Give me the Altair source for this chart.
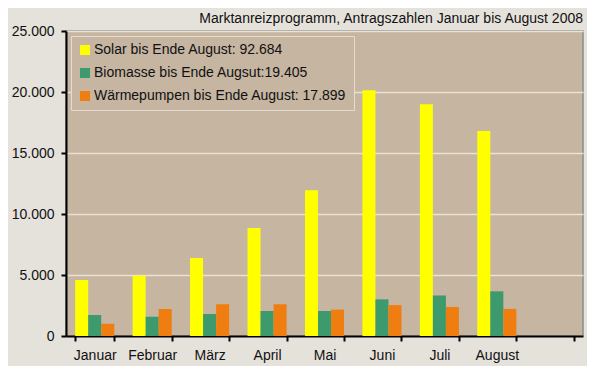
import altair as alt
import pandas as pd

months = ["Januar", "Februar", "März", "April", "Mai", "Juni", "Juli", "August"]
empty_slot = " "
series = [
    "Solar bis Ende August: 92.684",
    "Biomasse bis Ende Augsut:19.405",
    "Wärmepumpen bis Ende August: 17.899",
]
solar = [4600, 4950, 6400, 8850, 11950, 20150, 19000, 16800]
biomasse = [1720, 1580, 1800, 2050, 2050, 3000, 3320, 3660]
waerme = [1000, 2220, 2600, 2600, 2160, 2530, 2380, 2220]
colors = ["#ffff00", "#3c9a6c", "#f07d10"]
title_text = "Marktanreizprogramm, Antragszahlen Januar bis August 2008"

rows = []
for vals, s in zip([solar, biomasse, waerme], series):
    for m, v in zip(months, vals):
        rows.append({"Monat": m, "Serie": s, "Wert": v})
df = pd.DataFrame(rows)

FONT = "Liberation Sans"

chart = (
    alt.Chart(df)
    .mark_bar()
    .encode(
        x=alt.X(
            "Monat:N",
            sort=months + [empty_slot],
            scale=alt.Scale(domain=months + [empty_slot], paddingInner=0.32, paddingOuter=0.16),
            axis=alt.Axis(
                title=None,
                labelAngle=0,
                tickBand="extent",
                tickSize=5,
                labelPadding=7,
                grid=False,
            ),
        ),
        xOffset=alt.XOffset("Serie:N", sort=series, scale=alt.Scale(domain=series, paddingInner=0, paddingOuter=0)),
        y=alt.Y(
            "Wert:Q",
            scale=alt.Scale(domain=[0, 25000], nice=False),
            axis=alt.Axis(
                title=None,
                values=[0, 5000, 10000, 15000, 20000, 25000],
                labelExpr="replace(format(datum.value, ',.0f'), ',', '.')",
                tickSize=5,
                labelPadding=7,
                grid=True,
                gridColor="#ebe2d4",
                gridWidth=1.5,
            ),
        ),
        color=alt.Color(
            "Serie:N",
            sort=series,
            scale=alt.Scale(domain=series, range=colors),
            legend=alt.Legend(
                title=None,
                orient="none",
                legendX=5,
                legendY=5,
                symbolType="square",
                symbolSize=100,
                symbolStrokeWidth=0,
                labelFontSize=14,
                labelFont=FONT,
                labelColor="#111111",
                labelLimit=400,
                labelOffset=2,
                rowPadding=9,
                padding=7,
                strokeColor="#e4dccf",
                fillColor="#c5b5a1",
            ),
        ),
    )
    .properties(
        width=517,
        height=305,
        padding={"left": 3, "top": 4, "right": 4, "bottom": 4},
        title=alt.TitleParams(
            title_text,
            anchor="end",
            fontSize=14,
            fontWeight="normal",
            font=FONT,
            color="#111111",
            offset=-2,
        ),
    )
    .configure(background="#e5e2dc")
    .configure_view(fill="#c5b5a1", stroke="#8a8a8a", strokeWidth=1.5)
    .configure_axis(
        labelFont=FONT,
        labelFontSize=14,
        labelColor="#111111",
        domainColor="#000000",
        domainWidth=2,
        tickColor="#000000",
        tickWidth=2,
    )
)

chart.save("out.html", embed_options={"renderer": "svg", "actions": False})
